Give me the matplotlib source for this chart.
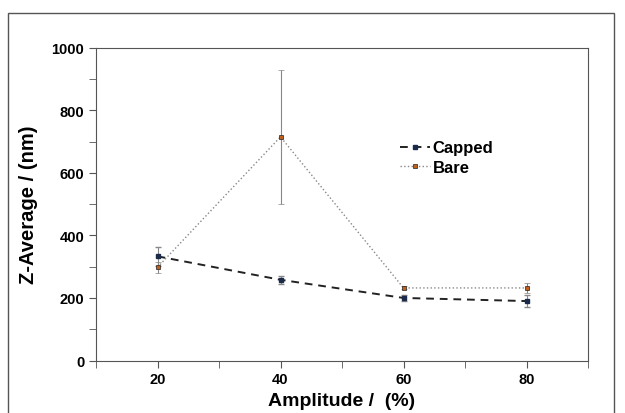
import matplotlib.pyplot as plt
from matplotlib.patches import Rectangle

plt.rcParams['font.family'] = ['Liberation Sans', 'DejaVu Sans']

amplitude = [20, 40, 60, 80]
capped = [333, 258, 200, 190]
capped_err = [30, 13, 10, 20]
bare = [298, 715, 232, 232]
bare_err = [18, 215, 5, 15]

fig = plt.figure(figsize=(6.25, 4.14), dpi=100)
ax = fig.add_axes([0.1536, 0.1268, 0.7872, 0.7556])

# outer frame around the figure
fig.patches.append(Rectangle((0.0128, -0.02), 0.9696, 0.986, transform=fig.transFigure,
                             fill=False, edgecolor='#555555', linewidth=1.0))

c = ax.errorbar(amplitude, capped, yerr=capped_err, color='#222222', linestyle='--',
                linewidth=1.4, dashes=(4, 3), marker='s', markersize=2.2,
                markerfacecolor='#1a2a4a', markeredgecolor='#1a2a4a',
                ecolor='#888888', elinewidth=0.8, capsize=2.5)
b = ax.errorbar(amplitude, bare, yerr=bare_err, color='#888888', linestyle=':',
                linewidth=1.0, marker='s', markersize=3.0,
                markerfacecolor='#c0601a', markeredgecolor='#222222', markeredgewidth=0.5,
                ecolor='#888888', elinewidth=0.8, capsize=2.5)

ax.set_xlim(10, 90)
ax.set_ylim(0, 1000)
ax.set_xticks([20, 40, 60, 80])
ax.set_xticks([10, 30, 50, 70, 90], minor=True)
ax.set_yticks([0, 200, 400, 600, 800, 1000])
ax.set_yticks([100, 300, 500, 700, 900], minor=True)
ax.tick_params(which='both', direction='out', color='#555555')
ax.tick_params(which='major', length=5, labelsize=10.5)
ax.tick_params(which='minor', length=5)
for lbl in ax.get_xticklabels() + ax.get_yticklabels():
    lbl.set_fontweight('bold')
for s in ax.spines.values():
    s.set_color('#555555')

ax.set_xlabel('Amplitude /  (%)', fontsize=14, fontweight='bold', labelpad=4)
ax.set_ylabel('Z-Average / (nm)', fontsize=14.5, fontweight='bold', labelpad=10)

ax.legend([c[0], b[0]], ['Capped', 'Bare'], loc='upper left',
          bbox_to_anchor=(0.6, 0.73), frameon=False,
          prop={'weight': 'bold', 'size': 12}, handlelength=1.8,
          handletextpad=0.2, labelspacing=0.25, borderpad=0)

fig.savefig('out.png', dpi=100)
